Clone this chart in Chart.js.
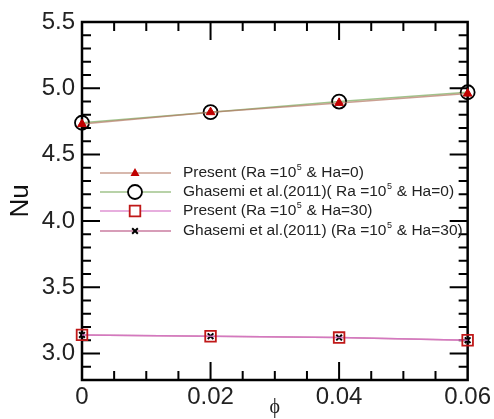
<!DOCTYPE html>
<html>
<head>
<meta charset="utf-8">
<script src="https://cdn.jsdelivr.net/npm/chart.js@4/dist/chart.umd.min.js"></script>
<style>
  html, body { margin: 0; padding: 0; background: #fff; }
  #wrap { width: 494px; height: 419px; }
</style>
</head>
<body>
<div id="wrap"><canvas id="nuChart" width="494" height="419"></canvas></div>
<script>
// Nusselt number vs. nanoparticle volume fraction
const phi = [0, 0.02, 0.04, 0.06];
const nuPresentHa0 = [4.73, 4.82, 4.89, 4.96];
const nuGhasemiHa0 = [4.74, 4.82, 4.90, 4.97];
const nuPresentHa30 = [3.14, 3.13, 3.12, 3.10];
const nuGhasemiHa30 = [3.14, 3.13, 3.12, 3.10];

const xTickLabels = ['0', '0.02', '0.04', '0.06'];
const yTickLabels = ['3.0', '3.5', '4.0', '4.5', '5.0', '5.5'];

// legend text split as [before, superscript, after]
const legendText = [
    ['Present (Ra =10', '5', ' & Ha=0)'],
    ['Ghasemi et al.(2011)( Ra =10', '5', ' & Ha=0)'],
    ['Present (Ra =10', '5', ' & Ha=30)'],
    ['Ghasemi et al.(2011) (Ra =10', '5', ' & Ha=30)']
];

const FONT = '"Liberation Sans", Arial, sans-serif';
const toPoints = (ys) => phi.map((x, i) => ({ x: x, y: ys[i] }));

const seriesStyle = [
    { line: 'rgba(180, 120, 100, 0.7)', point: 'triangle', radius: 5, fill: '#c00000', stroke: '#c00000', bw: 1 },
    { line: 'rgba(120, 170, 90, 0.7)', point: 'circle', radius: 7, fill: 'rgba(0,0,0,0)', stroke: '#000', bw: 1.8 },
    { line: 'rgba(215, 120, 200, 0.8)', point: 'rect', radius: 7.5, fill: 'rgba(0,0,0,0)', stroke: '#c01818', bw: 1.8 },
    { line: 'rgba(180, 70, 120, 0.7)', point: 'crossRot', radius: 4, fill: '#000', stroke: '#000', bw: 2 }
];
const seriesData = [nuPresentHa0, nuGhasemiHa0, nuPresentHa30, nuGhasemiHa30];

const datasets = seriesData.map((ys, i) => ({
    label: legendText[i].join(''),
    data: toPoints(ys),
    borderColor: seriesStyle[i].line,
    borderWidth: 1.5,
    pointStyle: seriesStyle[i].point,
    pointRadius: seriesStyle[i].radius,
    pointBackgroundColor: seriesStyle[i].fill,
    pointBorderColor: seriesStyle[i].stroke,
    pointBorderWidth: seriesStyle[i].bw,
    tension: 0,
    clip: false
}));

// frame and inward tick marks
const framePlugin = {
    id: 'frame',
    beforeDatasetsDraw(chart) {
        const { ctx, chartArea: a, scales } = chart;
        const xs = scales.x, ys = scales.y;
        ctx.save();
        ctx.strokeStyle = '#000';
        ctx.lineWidth = 2;
        ctx.beginPath();
        for (let i = 1; i < 12; i++) {
            const px = xs.getPixelForValue(i * 0.005);
            const len = i % 4 === 0 ? 18 : 9;
            ctx.moveTo(px, a.bottom); ctx.lineTo(px, a.bottom - len);
            ctx.moveTo(px, a.top); ctx.lineTo(px, a.top + len);
        }
        for (let i = 1; i < 27; i++) {
            const v = 2.8 + i * 0.1;
            const py = ys.getPixelForValue(v);
            const len = (i - 2) % 5 === 0 ? 18 : 9;
            ctx.moveTo(a.left, py); ctx.lineTo(a.left + len, py);
            ctx.moveTo(a.right, py); ctx.lineTo(a.right - len, py);
        }
        ctx.stroke();
        ctx.lineWidth = 2.5;
        ctx.strokeRect(a.left, a.top, a.right - a.left, a.bottom - a.top);
        ctx.restore();
    }
};

function drawMarker(ctx, s, x, y) {
    ctx.save();
    ctx.lineWidth = s.bw;
    ctx.strokeStyle = s.stroke;
    ctx.fillStyle = s.fill;
    ctx.beginPath();
    if (s.point === 'triangle') {
        const r = s.radius;
        ctx.moveTo(x, y - r);
        ctx.lineTo(x + r * 0.9, y + r * 0.6);
        ctx.lineTo(x - r * 0.9, y + r * 0.6);
        ctx.closePath();
        ctx.fill();
    } else if (s.point === 'circle') {
        ctx.fillStyle = '#fff';
        ctx.arc(x, y, s.radius, 0, Math.PI * 2);
        ctx.fill(); ctx.stroke();
    } else if (s.point === 'rect') {
        const h = s.radius * Math.SQRT1_2;
        ctx.fillStyle = '#fff';
        ctx.rect(x - h, y - h, 2 * h, 2 * h);
        ctx.fill(); ctx.stroke();
    } else {
        const h = s.radius * Math.SQRT1_2;
        ctx.moveTo(x - h, y - h); ctx.lineTo(x + h, y + h);
        ctx.moveTo(x + h, y - h); ctx.lineTo(x - h, y + h);
        ctx.stroke();
    }
    ctx.restore();
}

const legendPlugin = {
    id: 'innerLegend',
    afterDraw(chart) {
        const ctx = chart.ctx;
        const rowY = [173, 192, 211, 231];
        ctx.save();
        legendText.forEach((parts, i) => {
            const y = rowY[i];
            const s = seriesStyle[i];
            ctx.strokeStyle = s.line;
            ctx.lineWidth = 1.5;
            ctx.beginPath();
            ctx.moveTo(100, y); ctx.lineTo(171, y);
            ctx.stroke();
            drawMarker(ctx, s, 135, y);

            ctx.fillStyle = '#222';
            ctx.textBaseline = 'middle';
            let x = 183;
            ctx.font = '15.5px ' + FONT;
            ctx.fillText(parts[0], x, y);
            x += ctx.measureText(parts[0]).width;
            ctx.font = '9px ' + FONT;
            ctx.fillText(parts[1], x + 0.5, y - 5);
            x += ctx.measureText(parts[1]).width + 1;
            ctx.font = '15.5px ' + FONT;
            ctx.fillText(parts[2], x, y);
        });
        ctx.restore();
    }
};

new Chart(document.getElementById('nuChart'), {
    type: 'line',
    data: { datasets: datasets },
    options: {
        responsive: false,
        animation: false,
        layout: { padding: { top: 22, right: 26, left: 0, bottom: 0 } },
        plugins: { legend: { display: false }, tooltip: { enabled: false } },
        scales: {
            x: {
                type: 'linear',
                min: 0, max: 0.06,
                grid: { display: false, drawTicks: false },
                border: { display: false },
                afterBuildTicks: (scale) => { scale.ticks = phi.map(v => ({ value: v })); },
                afterFit: (scale) => { scale.height = 39; },
                ticks: {
                    autoSkip: false, maxRotation: 0, padding: 3,
                    color: '#222',
                    font: { family: FONT, size: 24 },
                    callback: (v, i) => xTickLabels[i]
                },
                title: {
                    display: true, text: 'ϕ', color: '#222',
                    font: { family: '"Liberation Serif", "DejaVu Serif", serif', size: 20, lineHeight: 1 },
                    padding: 1
                }
            },
            y: {
                min: 2.8, max: 5.5,
                grid: { display: false, drawTicks: false },
                border: { display: false },
                afterBuildTicks: (scale) => { scale.ticks = yTickLabels.map(t => ({ value: parseFloat(t) })); },
                afterFit: (scale) => { scale.width = 82; },
                ticks: {
                    padding: 7,
                    color: '#222',
                    font: { family: FONT, size: 24 },
                    callback: (v, i) => yTickLabels[i]
                },
                title: {
                    display: true, text: 'Nu', color: '#111',
                    font: { family: FONT, size: 26, lineHeight: 1.2 },
                    padding: { top: 5, bottom: 0 }
                }
            }
        }
    },
    plugins: [framePlugin, legendPlugin]
});
</script>
</body>
</html>
